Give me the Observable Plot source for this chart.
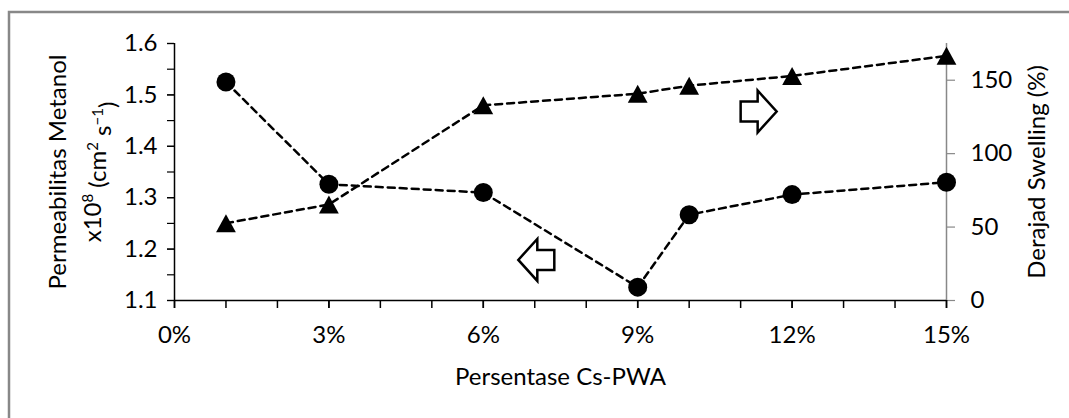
<!DOCTYPE html>
<html>
<head>
<meta charset="utf-8">
<script src="https://cdn.jsdelivr.net/npm/d3@7"></script>
<script src="https://cdn.jsdelivr.net/npm/@observablehq/plot@0.6"></script>
<style>
  html, body { margin: 0; padding: 0; background: #fff; }
  #chart { width: 1069px; height: 418px; overflow: hidden; }
</style>
</head>
<body>
<div id="chart"></div>
<script>
// ---- data ----
const percent = [1, 3, 6, 9, 10, 12, 15];
const permeability = [1.525, 1.326, 1.31, 1.126, 1.267, 1.306, 1.330];
const swelling = [52.6, 65.4, 132.9, 140.8, 146.3, 152.9, 166.6];
const leftTicks = [1.1, 1.2, 1.3, 1.4, 1.5, 1.6];
const leftMinorTicks = [1.1, 1.15, 1.2, 1.25, 1.3, 1.35, 1.4, 1.45, 1.5, 1.55, 1.6];
const rightTicks = [0, 50, 100, 150];
const xTickLabels = [0, 3, 6, 9, 12, 15];
const xMinorTicks = [0, 1, 2, 3, 4, 5, 6, 7, 8, 9, 10, 11, 12, 13, 14, 15];
const arrowLeftPos = [{x: 7.03, y: 1.179}];
const arrowRightPos = [{x: 11.35, y: 1.4677}];

// ---- dual axis mapping ----
const leftDomain = [1.1, 1.6];
const rightDomain = [0, 175];
const toLeft = v => leftDomain[0] + (v - rightDomain[0]) / (rightDomain[1] - rightDomain[0]) * (leftDomain[1] - leftDomain[0]);
const fromLeft = v => rightDomain[0] + (v - leftDomain[0]) / (leftDomain[1] - leftDomain[0]) * (rightDomain[1] - rightDomain[0]);

const rows = percent.map((p, i) => ({x: p, perm: permeability[i], swell: toLeft(swelling[i])}));

// ---- custom symbols ----
const triangleSym = { draw(ctx, size) { const r = Math.sqrt(size / Math.PI);
  ctx.moveTo(0, -r); ctx.lineTo(1.1 * r, r); ctx.lineTo(-1.1 * r, r); ctx.closePath(); } };
function blockArrow(dir) {
  return { draw(ctx, size) { const s = Math.sqrt(size / Math.PI) / 21 * dir;
    const t = Math.abs(s);
    ctx.moveTo(-18 * s, -10 * t); ctx.lineTo(-1 * s, -10 * t); ctx.lineTo(-1 * s, -21 * t);
    ctx.lineTo(18 * s, 0); ctx.lineTo(-1 * s, 21 * t); ctx.lineTo(-1 * s, 10 * t);
    ctx.lineTo(-18 * s, 10 * t); ctx.closePath(); } };
}

const FONT = "Lato, 'Open Sans', sans-serif";
const FS = 24;

const plot = Plot.plot({
  width: 1069,
  height: 418,
  marginLeft: 174,
  marginRight: 123,
  marginTop: 43,
  marginBottom: 118,
  style: { fontFamily: FONT, fontSize: FS + "px", color: "black", background: "white" },
  x: { domain: [0, 15], label: null },
  y: { domain: leftDomain, label: null },
  marks: [
    // axis lines
    Plot.ruleX([15], { y1: 1.1, y2: 1.6, stroke: "#888", strokeWidth: 1.5 }),
    Plot.ruleX([0], { y1: 1.1, y2: 1.6, stroke: "black", strokeWidth: 1.5 }),
    Plot.ruleY([1.1], { stroke: "black", strokeWidth: 1.5 }),
    // left axis
    Plot.axisY(leftMinorTicks, { anchor: "left", tickSize: 7, tickFormat: () => "", label: null, strokeWidth: 1.2 }),
    Plot.axisY(leftTicks, { anchor: "left", tickSize: 7, tickPadding: 10, fontSize: FS, tickFormat: d3.format(".1f"), label: null, strokeWidth: 1.2 }),
    // right axis
    Plot.axisY(rightTicks.map(toLeft), { anchor: "right", tickSize: 8, tickPadding: 16, fontSize: FS, stroke: "#888", fill: "black",
      tickFormat: d => String(Math.round(fromLeft(d))), label: null, strokeWidth: 1.2 }),
    // x axis
    Plot.axisX(xMinorTicks, { anchor: "bottom", tickSize: 8, tickFormat: () => "", label: null, strokeWidth: 1.5 }),
    Plot.axisX(xTickLabels, { anchor: "bottom", tickSize: 8, tickPadding: 17, fontSize: FS, tickFormat: d => d + "%", label: null, strokeWidth: 1.5 }),
    // titles
    Plot.text(["Persentase Cs-PWA"], { frameAnchor: "bottom", dy: 77, fontSize: FS, fill: "black", textAnchor: "middle", lineAnchor: "middle" })
  ].concat([
    // series lines
    Plot.line(rows, { x: "x", y: "perm", stroke: "black", strokeWidth: 2.5, strokeDasharray: "7,5" }),
    Plot.line(rows, { x: "x", y: "swell", stroke: "black", strokeWidth: 2.5, strokeDasharray: "7,5" }),
    // markers
    Plot.dot(rows, { x: "x", y: "perm", r: 9.5, fill: "black", stroke: "none" }),
    Plot.dot(rows, { x: "x", y: "swell", r: 9, symbol: triangleSym, fill: "black", stroke: "none" }),
    // arrows
    Plot.dot(arrowLeftPos, { x: "x", y: "y", r: 21, symbol: blockArrow(-1), fill: "white", stroke: "black", strokeWidth: 2.5 }),
    Plot.dot(arrowRightPos, { x: "x", y: "y", r: 21, symbol: blockArrow(1), fill: "white", stroke: "black", strokeWidth: 2.5 })
  ])
});

// outer chart frame and rotated axis titles
const svg = d3.select(plot);
svg.insert("rect", ":first-child")
  .attr("x", 9).attr("y", 12).attr("width", 1100).attr("height", 450)
  .attr("fill", "none").attr("stroke", "#888").attr("stroke-width", 2.5);

const title = svg.append("g").attr("font-family", FONT).attr("font-size", FS).attr("fill", "black")
  .attr("text-anchor", "middle");
title.append("text").attr("transform", "translate(58,172) rotate(-90)")
  .attr("dy", "0.35em").text("Permeabilitas Metanol");
const t2 = title.append("text").attr("transform", "translate(93,172) rotate(-90)").attr("dy", "0.35em");
t2.append("tspan").text("x10");
t2.append("tspan").attr("font-size", 15).attr("dy", "-0.55em").text("8");
t2.append("tspan").attr("dy", "0.55em").text(" (cm");
t2.append("tspan").attr("font-size", 15).attr("dy", "-0.55em").text("2");
t2.append("tspan").attr("dy", "0.55em").text(" s");
t2.append("tspan").attr("font-size", 15).attr("dy", "-0.55em").text("\u22121");
t2.append("tspan").attr("dy", "0.55em").text(")");
title.append("text").attr("transform", "translate(1037,172) rotate(-90)")
  .attr("dy", "0.35em").text("Derajad Swelling (%)");

document.getElementById("chart").appendChild(plot);
</script>
</body>
</html>
